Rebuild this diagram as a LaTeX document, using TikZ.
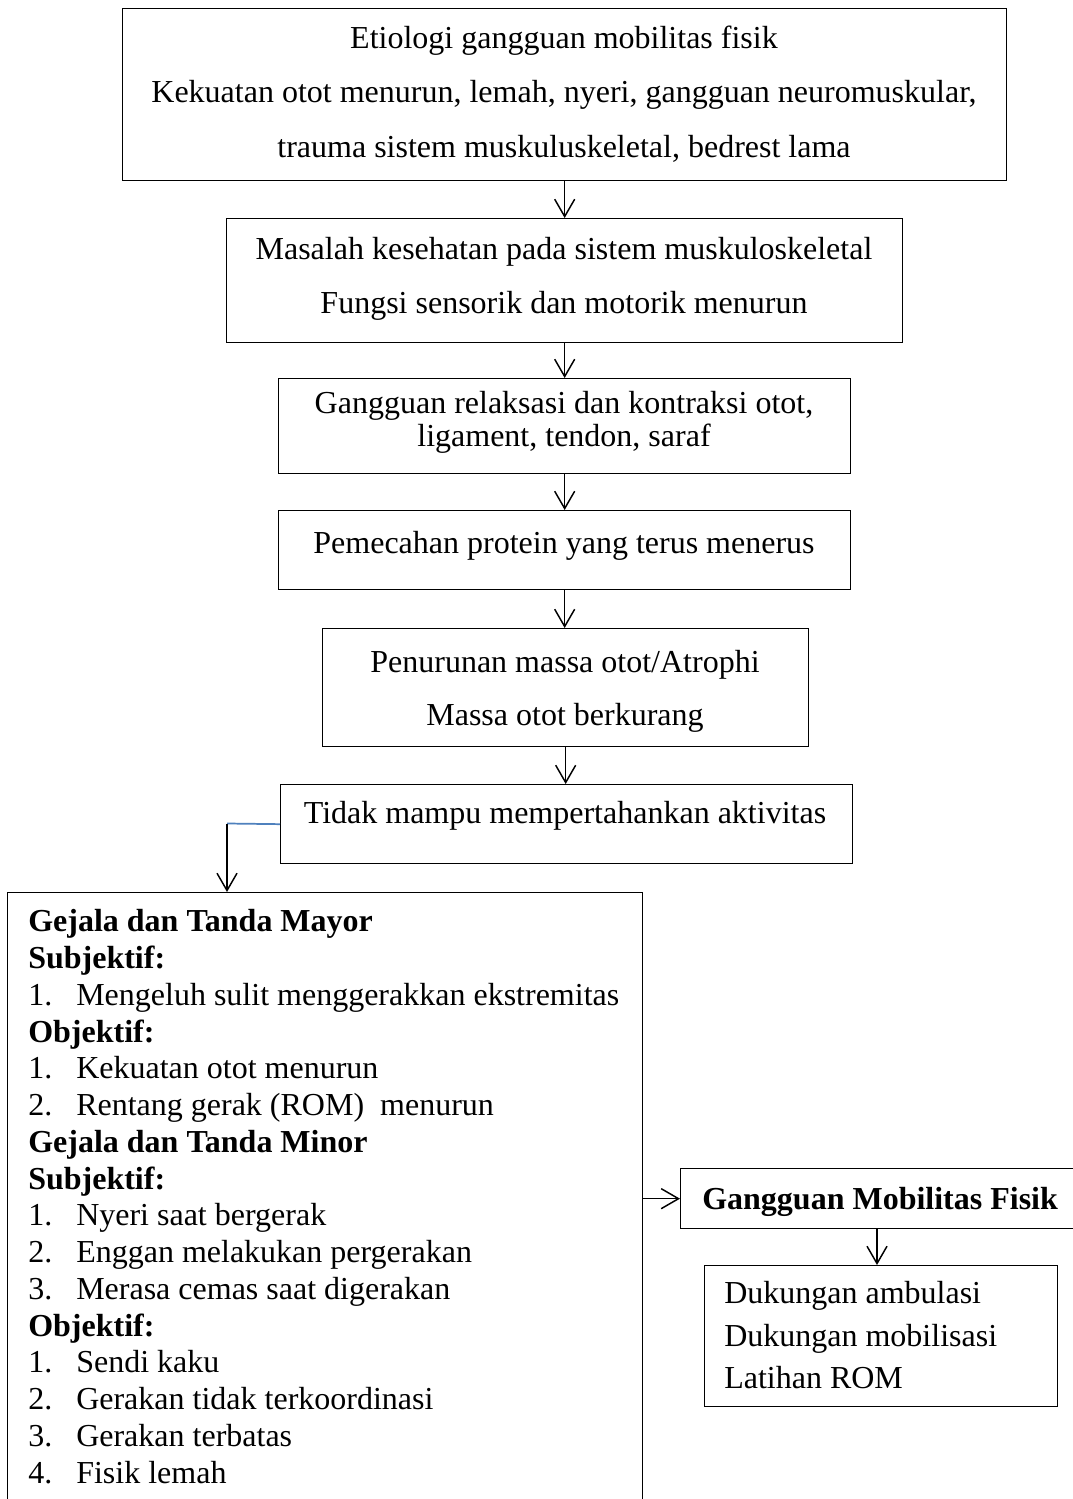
\documentclass[tikz,border=0pt]{standalone}
\usepackage{fontspec}
\setmainfont{Liberation Serif}
\usetikzlibrary{arrows.meta,calc}
\definecolor{wordblue}{RGB}{79,129,189}
\begin{document}
\begin{tikzpicture}[x=0.75pt,y=-0.75pt,
  box/.style={draw, line width=1pt, rectangle, inner sep=0pt, anchor=north west},
  txt/.style={inner sep=0pt, font=\fontsize{24}{28}\selectfont},
  btxt/.style={inner sep=0pt, font=\fontsize{24}{28}\selectfont\bfseries},
  arr/.style={line width=1.1pt, -{Straight Barb[length=13pt,width=15pt,line width=1.1pt]}},
  blueline/.style={line width=1.3pt, draw=wordblue}
]
\clip (0,0) rectangle (1073,1499);
\fill[white] (0,0) rectangle (1073,1499);

% boxes
\node[box, minimum width={884*0.75pt}, minimum height={172*0.75pt}] (b1) at (122,8) {};
\node[box, minimum width={676*0.75pt}, minimum height={124*0.75pt}] (b2) at (226,218) {};
\node[box, minimum width={572*0.75pt}, minimum height={95*0.75pt}] (b3) at (278,378) {};
\node[box, minimum width={572*0.75pt}, minimum height={79*0.75pt}] (b4) at (278,510) {};
\node[box, minimum width={486*0.75pt}, minimum height={118*0.75pt}] (b5) at (322,628) {};
\node[box, minimum width={572*0.75pt}, minimum height={79*0.75pt}] (b6) at (280,784) {};
\node[box, minimum width={635*0.75pt}, minimum height={640*0.75pt}] (big) at (7,892) {};
\node[box, minimum width={420*0.75pt}, minimum height={60*0.75pt}] (g) at (680,1168) {};
\node[box, minimum width={353*0.75pt}, minimum height={141*0.75pt}] (d) at (704,1265) {};

% box 1 text
\node[txt, anchor=base] (t1a) at (564,48) {Etiologi gangguan mobilitas fisik};
\node[txt, anchor=base] (t1b) at (564,102) {Kekuatan otot menurun, lemah, nyeri, gangguan neuromuskular,};
\node[txt, anchor=base] (t1c) at (564,157) {trauma sistem muskuluskeletal, bedrest lama};
% box 2
\node[txt, anchor=base] (t2a) at (564,259) {Masalah kesehatan pada sistem muskuloskeletal};
\node[txt, anchor=base] (t2b) at (564,313) {Fungsi sensorik dan motorik menurun};
% box 3
\node[txt, anchor=base] (t3a) at (564,413) {Gangguan relaksasi dan kontraksi otot,};
\node[txt, anchor=base] (t3b) at (564,446) {ligament, tendon, saraf};
% box 4
\node[txt, anchor=base] (t4) at (564,553) {Pemecahan protein yang terus menerus};
% box 5
\node[txt, anchor=base] (t5a) at (565,672) {Penurunan massa otot/Atrophi};
\node[txt, anchor=base] (t5b) at (565,725) {Massa otot berkurang};
% box 6
\node[txt, anchor=base] (t6) at (565,823) {Tidak mampu mempertahankan aktivitas};

% big box text
\node[btxt, anchor=base west] (h1) at (28,931.7) {Gejala dan Tanda Mayor};
\node[btxt, anchor=base west] (h2) at (28,968.5) {Subjektif:};
\node[txt, anchor=base west] (n3) at (28,1005.2) {1.};
\node[txt, anchor=base west] (i3) at (76,1005.2) {Mengeluh sulit menggerakkan ekstremitas};
\node[btxt, anchor=base west] (h4) at (28,1042) {Objektif:};
\node[txt, anchor=base west] (n5) at (28,1078.7) {1.};
\node[txt, anchor=base west] (i5) at (76,1078.7) {Kekuatan otot menurun};
\node[txt, anchor=base west] (n6) at (28,1115.5) {2.};
\node[txt, anchor=base west] (i6) at (76,1115.5) {Rentang gerak (ROM)\ \ menurun};
\node[btxt, anchor=base west] (h7) at (28,1152.2) {Gejala dan Tanda Minor};
\node[btxt, anchor=base west] (h8) at (28,1189) {Subjektif:};
\node[txt, anchor=base west] (n9) at (28,1225.7) {1.};
\node[txt, anchor=base west] (i9) at (76,1225.7) {Nyeri saat bergerak};
\node[txt, anchor=base west] (n10) at (28,1262.5) {2.};
\node[txt, anchor=base west] (i10) at (76,1262.5) {Enggan melakukan pergerakan};
\node[txt, anchor=base west] (n11) at (28,1299.2) {3.};
\node[txt, anchor=base west] (i11) at (76,1299.2) {Merasa cemas saat digerakan};
\node[btxt, anchor=base west] (h12) at (28,1336) {Objektif:};
\node[txt, anchor=base west] (n13) at (28,1372.7) {1.};
\node[txt, anchor=base west] (i13) at (76,1372.7) {Sendi kaku};
\node[txt, anchor=base west] (n14) at (28,1409.5) {2.};
\node[txt, anchor=base west] (i14) at (76,1409.5) {Gerakan tidak terkoordinasi};
\node[txt, anchor=base west] (n15) at (28,1446.2) {3.};
\node[txt, anchor=base west] (i15) at (76,1446.2) {Gerakan terbatas};
\node[txt, anchor=base west] (n16) at (28,1483) {4.};
\node[txt, anchor=base west] (i16) at (76,1483) {Fisik lemah};

% right side text
\node[btxt, anchor=base west] (tg) at (702,1209) {Gangguan Mobilitas Fisik};
\node[txt, anchor=base west] (td1) at (724,1303) {Dukungan ambulasi};
\node[txt, anchor=base west] (td2) at (724,1346.5) {Dukungan mobilisasi};
\node[txt, anchor=base west] (td3) at (724,1388.5) {Latihan ROM};

% connectors
\draw[arr] (b1.south) -- (b2.north);
\draw[arr] (b2.south) -- (b3.north);
\draw[arr] (b3.south) -- (b4.north);
\draw[arr] (b4.south) -- (b4.south |- b5.north);
\draw[arr] (b5.south) -- (b5.south |- b6.north);
\coordinate (c1) at (227,823.5);
\draw[blueline] (b6.west) -- (c1);
\draw[arr] (c1) -- (c1 |- big.north);
\draw[arr] (big.east |- g.west) -- (g.west);
\coordinate (c2) at (877,1228);
\draw[arr] (c2) -- (c2 |- d.north);
\end{tikzpicture}
\end{document}
